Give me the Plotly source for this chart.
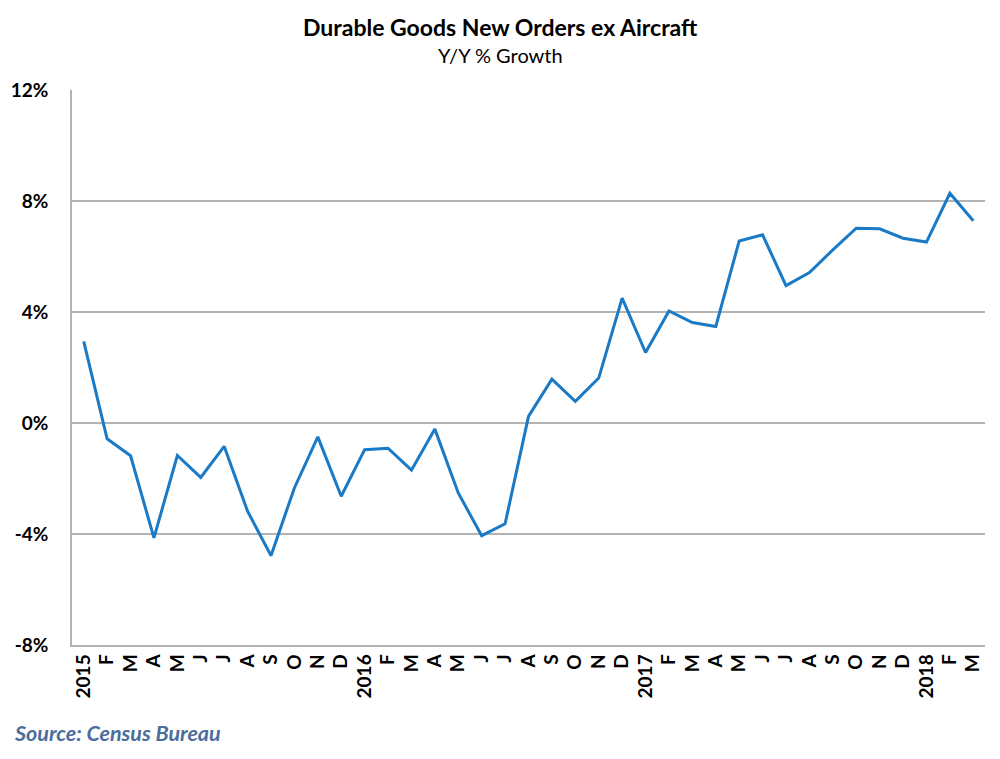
import plotly.graph_objects as go

months = ["2015", "F", "M", "A", "M", "J", "J", "A", "S", "O", "N", "D",
          "2016", "F", "M", "A", "M", "J", "J", "A", "S", "O", "N", "D",
          "2017", "F", "M", "A", "M", "J", "J", "A", "S", "O", "N", "D",
          "2018", "F", "M"]
growth = [2.94, -0.57, -1.18, -4.14, -1.17, -1.96, -0.84, -3.18, -4.78, -2.34, -0.50, -2.64,
          -0.96, -0.91, -1.70, -0.22, -2.52, -4.06, -3.63, 0.24, 1.58, 0.78, 1.62, 4.50,
          2.54, 4.04, 3.62, 3.48, 6.56, 6.78, 4.95, 5.42, 6.24, 7.02, 7.00, 6.66,
          6.52, 8.28, 7.29]
y_ticks = [-8, -4, 0, 4, 8, 12]
y_labels = ["-8%", "-4%", "0%", "4%", "8%", "12%"]

idx = list(range(len(months)))

fig = go.Figure()
fig.add_trace(go.Scatter(x=idx, y=growth, mode="lines",
                         line=dict(color="#1a7ac6", width=3),
                         hoverinfo="skip"))

plot_h = 759 - 90 - 114
plot_w = 1000 - 72 - 15
def py(y_px):
    return (759 - 114 - y_px) / plot_h
def px(x_px):
    return (x_px - 72) / plot_w

fig.update_layout(
    width=1000, height=759,
    margin=dict(l=72, r=15, t=90, b=114),
    paper_bgcolor="white", plot_bgcolor="white",
    showlegend=False,
    font=dict(family="Lato, Open Sans, sans-serif", color="black"),
    annotations=[
        dict(text="<b>Durable Goods New Orders ex Aircraft</b>", x=px(500), y=py(27),
             xref="paper", yref="paper", showarrow=False, xanchor="center", yanchor="middle",
             font=dict(size=23, color="black")),
        dict(text="Y/Y % Growth", x=px(500), y=py(55), xref="paper", yref="paper",
             showarrow=False, xanchor="center", yanchor="middle",
             font=dict(size=20, color="black")),
        dict(text="<b><i>Source: Census Bureau</i></b>", x=px(12), y=py(733),
             xref="paper", yref="paper", xanchor="left", yanchor="middle",
             showarrow=False, font=dict(size=21.5, color="#4a6d9c")),
    ],
)

fig.update_xaxes(
    type="linear", range=[-0.5, len(months) - 0.5],
    tickmode="array", tickvals=idx, ticktext=[f"<b>{m}</b>" for m in months],
    tickangle=-90, tickfont=dict(size=19, color="black"),
    showgrid=False, zeroline=False, showline=True, linecolor="#b3b3b3", linewidth=1.5,
    ticks="", fixedrange=True,
)
fig.update_yaxes(
    range=[-8, 12], tickmode="array", tickvals=y_ticks,
    ticktext=[f"<b>{t}</b>" for t in y_labels],
    tickfont=dict(size=19, color="black"),
    showgrid=True, gridcolor="#b3b3b3", gridwidth=1.5,
    zeroline=False, showline=True, linecolor="#b3b3b3", linewidth=1.5,
    ticks="", ticklabelstandoff=18, fixedrange=True,
)

fig.write_html("out.html")
